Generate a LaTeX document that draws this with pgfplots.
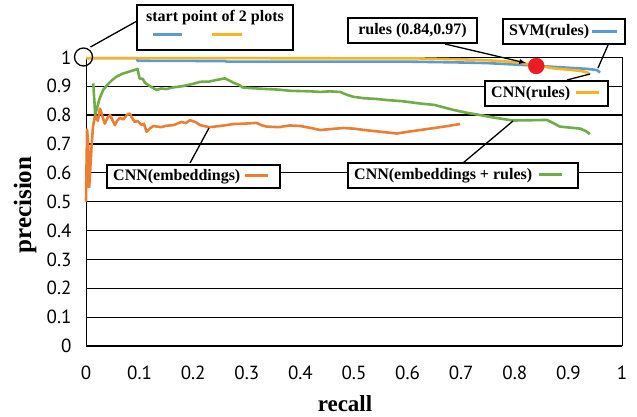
\documentclass[border=0pt]{standalone}
\usepackage{pgfplots}
\pgfplotsset{compat=1.18}
\usepackage{fontspec}
\setmainfont{Liberation Serif}
\newfontfamily\tickfont{PT Sans}
\definecolor{cblue}{RGB}{91,155,213}
\definecolor{corange}{RGB}{237,125,49}
\definecolor{cgreen}{RGB}{112,173,71}
\definecolor{cyellow}{RGB}{246,180,30}
\definecolor{cred}{RGB}{237,28,36}
\begin{document}
\begin{tikzpicture}
\begin{axis}[
  at={(86pt,71pt)}, anchor=south west,
  scale only axis, width=536pt, height=288.7pt,
  xmin=0, xmax=1, ymin=0, ymax=1,
  xtick={0,0.1,0.2,0.3,0.4,0.5,0.6,0.7,0.8,0.9,1},
  ytick={0,0.1,0.2,0.3,0.4,0.5,0.6,0.7,0.8,0.9,1},
  xticklabels={0,0.1,0.2,0.3,0.4,0.5,0.6,0.7,0.8,0.9,1},
  yticklabels={0,0.1,0.2,0.3,0.4,0.5,0.6,0.7,0.8,0.9,1},
  ymajorgrids, grid style={black, line width=1.2pt},
  axis line style={black, line width=1pt},
  major tick length=0pt,
  tick label style={font=\tickfont\fontsize{19}{22}\selectfont},
  xticklabel style={yshift=-16pt},
  yticklabel style={xshift=-11pt},
  clip=false,
]
\addplot[corange, line width=2.6pt, line join=round] coordinates {
(0,0.50)(0.002,0.75)(0.004,0.70)(0.006,0.55)(0.010,0.68)(0.013,0.76)(0.017,0.80)
(0.022,0.78)(0.026,0.822)(0.030,0.80)(0.035,0.77)(0.040,0.79)(0.045,0.80)(0.050,0.78)
(0.054,0.765)(0.058,0.78)(0.063,0.79)(0.070,0.785)(0.076,0.80)(0.082,0.805)(0.086,0.79)
(0.091,0.776)(0.096,0.780)(0.104,0.765)(0.108,0.770)(0.113,0.742)(0.120,0.755)(0.126,0.762)
(0.140,0.758)(0.150,0.763)(0.163,0.765)(0.170,0.770)(0.178,0.776)(0.186,0.772)(0.194,0.782)
(0.205,0.775)(0.213,0.765)(0.230,0.758)(0.250,0.762)(0.262,0.765)(0.275,0.769)(0.295,0.770)
(0.318,0.773)(0.327,0.765)(0.337,0.760)(0.36,0.758)(0.38,0.764)(0.40,0.762)(0.42,0.755)
(0.437,0.748)(0.46,0.752)(0.48,0.755)(0.499,0.753)(0.52,0.748)(0.55,0.742)(0.58,0.736)
(0.60,0.742)(0.623,0.748)(0.65,0.755)(0.675,0.762)(0.698,0.769)
};
\addplot[cgreen, line width=2.6pt, line join=round] coordinates {
(0.0136,0.91)(0.0145,0.88)(0.016,0.84)(0.017,0.80)(0.020,0.82)(0.025,0.855)(0.032,0.887)
(0.040,0.905)(0.048,0.92)(0.057,0.933)(0.068,0.943)(0.080,0.950)(0.094,0.958)(0.096,0.960)
(0.100,0.927)(0.106,0.925)(0.110,0.912)(0.116,0.904)(0.124,0.895)(0.132,0.887)(0.140,0.892)
(0.150,0.890)(0.163,0.896)(0.180,0.900)(0.200,0.908)(0.213,0.915)(0.230,0.916)(0.245,0.922)
(0.259,0.927)(0.267,0.920)(0.275,0.912)(0.285,0.905)(0.293,0.895)(0.310,0.893)(0.337,0.89)
(0.36,0.888)(0.38,0.884)(0.40,0.883)(0.42,0.882)(0.437,0.88)(0.455,0.882)(0.474,0.88)
(0.487,0.870)(0.499,0.863)(0.52,0.858)(0.54,0.856)(0.561,0.852)(0.59,0.848)(0.623,0.84)
(0.65,0.835)(0.685,0.818)(0.71,0.808)(0.735,0.80)(0.765,0.79)(0.797,0.781)(0.83,0.782)
(0.86,0.783)(0.872,0.772)(0.884,0.76)(0.90,0.757)(0.922,0.753)(0.932,0.745)(0.94,0.734)
};
\addplot[cblue, line width=2.6pt, line join=round] coordinates {
(0,0.997)(0.095,0.997)(0.096,0.988)(0.26,0.987)(0.262,0.985)(0.50,0.985)(0.60,0.985)
(0.70,0.982)(0.748,0.980)(0.81,0.974)(0.84,0.971)(0.871,0.967)(0.934,0.960)(0.953,0.956)(0.959,0.947)
};
\addplot[cyellow, line width=2.6pt, line join=round] coordinates {
(0,0.997)(0.3,0.997)(0.623,0.996)(0.70,0.993)(0.748,0.99)(0.78,0.986)(0.81,0.981)
(0.84,0.972)(0.871,0.962)(0.90,0.957)(0.922,0.953)(0.935,0.948)(0.94,0.94)
};
\addplot[only marks, mark=*, mark size=8pt, cred] coordinates {(0.84,0.97)};
\end{axis}
\begin{scope}[x=1pt,y=-1pt,yshift=417pt]
\useasboundingbox (0,0) rectangle (637,417);
% axis labels
\node[rotate=90, font=\bfseries\fontsize{25}{28}\selectfont] at (25,205) {precision};
\node[font=\bfseries\fontsize{23}{26}\selectfont] at (345,404) {recall};
\tikzset{box/.style={draw=black, line width=1.6pt, fill=white}, lbl/.style={font=\bfseries\fontsize{16}{19}\selectfont, inner sep=0pt}}
% start point box
\draw[black, line width=1.3pt] (83.5,57) circle (9);
\draw[black, line width=1.3pt] (90.5,47) -- (137,21);
\draw[box] (137,5) rectangle (293,50);
\node[lbl] at (215,18) {start point of 2 plots};
\draw[cblue, line width=3pt] (153,35) -- (182,35);
\draw[cyellow, line width=3pt] (212,35) -- (242,35);
% rules point
\draw[black, line width=1.3pt, -latex] (445,44) -- (526,63);
\draw[box] (348,18) rectangle (477,43);
\node[lbl] at (412.5,31) {rules (0.84,0.97)};
% SVM(rules)
\draw[black, line width=1.3pt] (608,45) -- (598,68);
\draw[box] (503,19) rectangle (625,44);
\node[lbl, anchor=west] at (509,32) {SVM(rules)};
\draw[cblue, line width=3pt] (592,32) -- (617,32);
% CNN(rules)
\draw[black, line width=1.3pt] (567,80) -- (590,74);
\draw[box] (485,81) rectangle (608,106);
\node[lbl, anchor=west] at (491,94) {CNN(rules)};
\draw[cyellow, line width=3pt] (576,93) -- (599,93);
% CNN(embeddings + rules)
\draw[black, line width=1.3pt] (463,163) -- (513,121);
\draw[box] (348,163) rectangle (578,188);
\node[lbl, anchor=west] at (354,175.5) {CNN(embeddings + rules)};
\draw[cgreen, line width=3pt] (539,175) -- (562,175);
% CNN(embeddings)
\draw[black, line width=1.3pt] (190,163) -- (209,128);
\draw[box] (107,165) rectangle (280,188);
\node[lbl, anchor=west] at (113,176.5) {CNN(embeddings)};
\draw[corange, line width=3pt] (245,176) -- (268,176);
\end{scope}
\end{tikzpicture}
\end{document}
